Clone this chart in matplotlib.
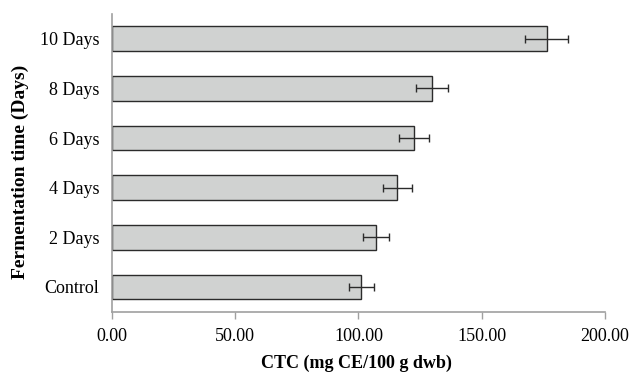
import matplotlib
matplotlib.use("Agg")
import matplotlib.pyplot as plt

categories = ["Control", "2 Days", "4 Days", "6 Days", "8 Days", "10 Days"]
values = [101.2, 107.1, 115.7, 122.5, 129.8, 176.4]
errors = [5.1, 5.3, 5.9, 6.1, 6.6, 8.8]
xticks = [0, 50, 100, 150, 200]
xticklabels = ["0.00", "50.00", "100.00", "150.00", "200.00"]

plt.rcParams['font.family'] = ['Liberation Serif', 'DejaVu Serif']

fig = plt.figure(figsize=(6.32, 3.73), dpi=100)
ax = fig.add_axes([0.1772, 0.1643, 0.7798, 0.7982])

ypos = list(range(len(categories)))
ax.barh(ypos, values, height=0.5, color="#d0d2d1", edgecolor="#2b2b2b", linewidth=1.0,
        xerr=errors, error_kw=dict(ecolor="#2b2b2b", elinewidth=1.0, capsize=3, capthick=1.0))

ax.set_xlim(0, 200)
ax.set_ylim(-0.5, 5.5)
ax.set_yticks(ypos)
ax.set_yticklabels(categories, fontsize=13)
ax.set_xticks(xticks)
ax.set_xticklabels(xticklabels, fontsize=13)

for s in ["top", "right"]:
    ax.spines[s].set_visible(False)
for s in ["left", "bottom"]:
    ax.spines[s].set_color("#a0a0a0")
    ax.spines[s].set_linewidth(1.2)

ax.tick_params(axis="y", length=0, pad=9)
ax.tick_params(axis="x", direction="out", length=5, color="#a0a0a0", width=1, pad=7)

ax.set_xlabel("CTC (mg CE/100 g dwb)", fontsize=13, fontweight="bold")
ax.set_ylabel("Fermentation time (Days)", fontsize=14, fontweight="bold")
ax.xaxis.set_label_coords(0.497, -0.145)
ax.yaxis.set_label_coords(-0.168, 0.47)

fig.savefig("out.png", dpi=100)
